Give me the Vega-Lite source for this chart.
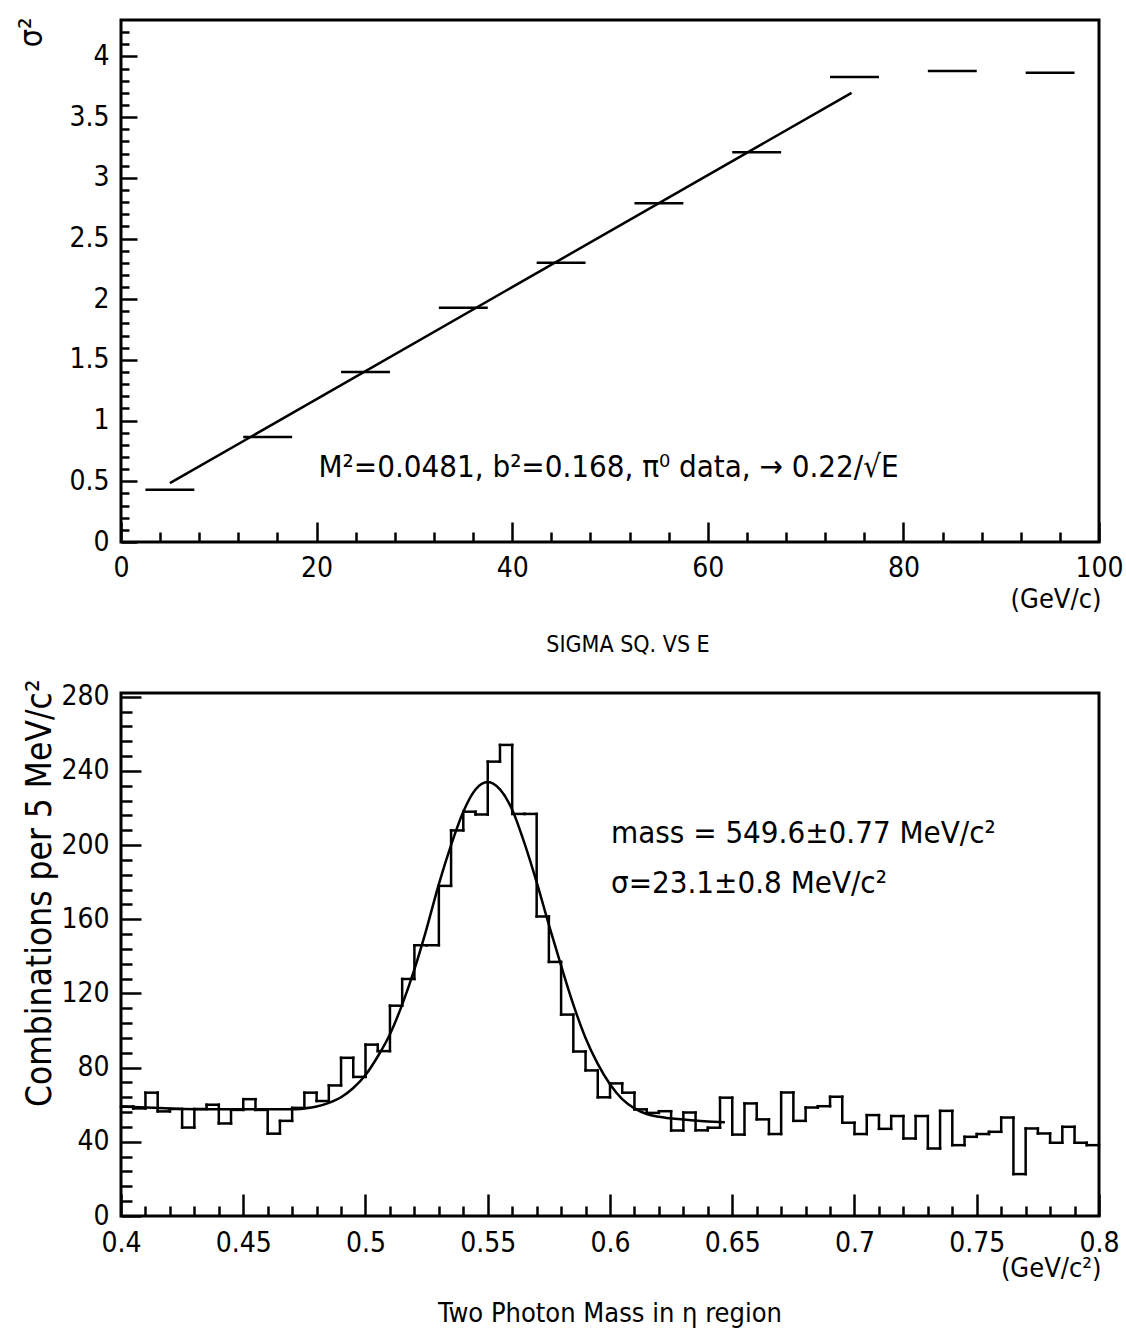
{
  "$schema": "https://vega.github.io/schema/vega-lite/v6.json",
  "background": "white",
  "padding": {"left": 13, "top": 15, "right": 2, "bottom": 2},
  "spacing": 151,
  "bounds": "flush",
  "config": {
    "font": "DejaVu Sans Condensed, DejaVu Sans, sans-serif",
    "view": {"stroke": "black", "strokeWidth": 3},
    "axis": {
      "domain": false,
      "grid": false,
      "tickColor": "black",
      "tickWidth": 2.5,
      "tickCount": 1000,
      "labelColor": "black",
      "labelFont": "DejaVu Sans Condensed, DejaVu Sans, sans-serif",
      "labelFontSize": 28,
      "labelFlush": false,
      "labelOverlap": false,
      "titleColor": "black",
      "titleFont": "DejaVu Sans Condensed, DejaVu Sans, sans-serif",
      "titleFontWeight": "normal",
      "format": ".2~f"
    },
    "title": {"font": "DejaVu Sans Condensed, DejaVu Sans, sans-serif", "fontWeight": "normal", "color": "black", "fontSize": 23}
  },
  "datasets": {
    "sigma": [
      {"lo": 2.5, "hi": 7.5, "s2": 0.43},
      {"lo": 12.5, "hi": 17.5, "s2": 0.865},
      {"lo": 22.5, "hi": 27.5, "s2": 1.40},
      {"lo": 32.5, "hi": 37.5, "s2": 1.93},
      {"lo": 42.5, "hi": 47.5, "s2": 2.30},
      {"lo": 52.5, "hi": 57.5, "s2": 2.79},
      {"lo": 62.5, "hi": 67.5, "s2": 3.21},
      {"lo": 72.5, "hi": 77.5, "s2": 3.83},
      {"lo": 82.5, "hi": 87.5, "s2": 3.88},
      {"lo": 92.5, "hi": 97.5, "s2": 3.865}
    ],
    "fit": [
      {"e": 5.0, "s2": 0.485},
      {"e": 74.7, "s2": 3.70}
    ],
    "hist": [
      {"lo": 0.400, "hi": 0.405, "n": 59},
      {"lo": 0.405, "hi": 0.410, "n": 58},
      {"lo": 0.410, "hi": 0.415, "n": 66.5},
      {"lo": 0.415, "hi": 0.420, "n": 56.4},
      {"lo": 0.420, "hi": 0.425, "n": 57.7},
      {"lo": 0.425, "hi": 0.430, "n": 47.7},
      {"lo": 0.430, "hi": 0.435, "n": 57.7},
      {"lo": 0.435, "hi": 0.440, "n": 60},
      {"lo": 0.440, "hi": 0.445, "n": 49.9},
      {"lo": 0.445, "hi": 0.450, "n": 57.2},
      {"lo": 0.450, "hi": 0.455, "n": 63},
      {"lo": 0.455, "hi": 0.460, "n": 57.2},
      {"lo": 0.460, "hi": 0.465, "n": 44.4},
      {"lo": 0.465, "hi": 0.470, "n": 51.3},
      {"lo": 0.470, "hi": 0.475, "n": 58.3},
      {"lo": 0.475, "hi": 0.480, "n": 66.5},
      {"lo": 0.480, "hi": 0.485, "n": 62},
      {"lo": 0.485, "hi": 0.490, "n": 70.4},
      {"lo": 0.490, "hi": 0.495, "n": 85.3},
      {"lo": 0.495, "hi": 0.500, "n": 75},
      {"lo": 0.500, "hi": 0.505, "n": 92.4},
      {"lo": 0.505, "hi": 0.510, "n": 88.9},
      {"lo": 0.510, "hi": 0.515, "n": 113.4},
      {"lo": 0.515, "hi": 0.520, "n": 127.8},
      {"lo": 0.520, "hi": 0.525, "n": 146},
      {"lo": 0.525, "hi": 0.530, "n": 146},
      {"lo": 0.530, "hi": 0.535, "n": 178},
      {"lo": 0.535, "hi": 0.540, "n": 207.9},
      {"lo": 0.540, "hi": 0.545, "n": 218},
      {"lo": 0.545, "hi": 0.550, "n": 216.5},
      {"lo": 0.550, "hi": 0.555, "n": 245},
      {"lo": 0.555, "hi": 0.560, "n": 254},
      {"lo": 0.560, "hi": 0.565, "n": 216.8},
      {"lo": 0.565, "hi": 0.570, "n": 216.8},
      {"lo": 0.570, "hi": 0.575, "n": 161.5},
      {"lo": 0.575, "hi": 0.580, "n": 137},
      {"lo": 0.580, "hi": 0.585, "n": 108.6},
      {"lo": 0.585, "hi": 0.590, "n": 88.7},
      {"lo": 0.590, "hi": 0.595, "n": 78.5},
      {"lo": 0.595, "hi": 0.600, "n": 64},
      {"lo": 0.600, "hi": 0.605, "n": 71.5},
      {"lo": 0.605, "hi": 0.610, "n": 66.5},
      {"lo": 0.610, "hi": 0.615, "n": 57.5},
      {"lo": 0.615, "hi": 0.620, "n": 55.6},
      {"lo": 0.620, "hi": 0.625, "n": 56.5},
      {"lo": 0.625, "hi": 0.630, "n": 46.1},
      {"lo": 0.630, "hi": 0.635, "n": 55.8},
      {"lo": 0.635, "hi": 0.640, "n": 46.2},
      {"lo": 0.640, "hi": 0.645, "n": 47.6},
      {"lo": 0.645, "hi": 0.650, "n": 63.8},
      {"lo": 0.650, "hi": 0.655, "n": 43.9},
      {"lo": 0.655, "hi": 0.660, "n": 60.7},
      {"lo": 0.660, "hi": 0.665, "n": 52.1},
      {"lo": 0.665, "hi": 0.670, "n": 44.2},
      {"lo": 0.670, "hi": 0.675, "n": 66.6},
      {"lo": 0.675, "hi": 0.680, "n": 51.3},
      {"lo": 0.680, "hi": 0.685, "n": 58.5},
      {"lo": 0.685, "hi": 0.690, "n": 59.2},
      {"lo": 0.690, "hi": 0.695, "n": 64.3},
      {"lo": 0.695, "hi": 0.700, "n": 50.3},
      {"lo": 0.700, "hi": 0.705, "n": 44.2},
      {"lo": 0.705, "hi": 0.710, "n": 54.4},
      {"lo": 0.710, "hi": 0.715, "n": 47},
      {"lo": 0.715, "hi": 0.720, "n": 53.9},
      {"lo": 0.720, "hi": 0.725, "n": 41.8},
      {"lo": 0.725, "hi": 0.730, "n": 53.9},
      {"lo": 0.730, "hi": 0.735, "n": 36.4},
      {"lo": 0.735, "hi": 0.740, "n": 56.7},
      {"lo": 0.740, "hi": 0.745, "n": 38.2},
      {"lo": 0.745, "hi": 0.750, "n": 42.7},
      {"lo": 0.750, "hi": 0.755, "n": 44.2},
      {"lo": 0.755, "hi": 0.760, "n": 45.4},
      {"lo": 0.760, "hi": 0.765, "n": 53.1},
      {"lo": 0.765, "hi": 0.770, "n": 22.6},
      {"lo": 0.770, "hi": 0.775, "n": 47.2},
      {"lo": 0.775, "hi": 0.780, "n": 44.5},
      {"lo": 0.780, "hi": 0.785, "n": 39.5},
      {"lo": 0.785, "hi": 0.790, "n": 48.1},
      {"lo": 0.790, "hi": 0.795, "n": 39.5},
      {"lo": 0.795, "hi": 0.800, "n": 38.2}
    ],
    "curve": [
      {"m": 0.400, "f": 59},
      {"m": 0.410, "f": 58.5},
      {"m": 0.420, "f": 58},
      {"m": 0.440, "f": 57.5},
      {"m": 0.460, "f": 57.5},
      {"m": 0.470, "f": 57.5},
      {"m": 0.475, "f": 58},
      {"m": 0.480, "f": 59},
      {"m": 0.485, "f": 61},
      {"m": 0.490, "f": 64},
      {"m": 0.495, "f": 69},
      {"m": 0.500, "f": 76},
      {"m": 0.505, "f": 86},
      {"m": 0.510, "f": 98},
      {"m": 0.515, "f": 114},
      {"m": 0.520, "f": 133},
      {"m": 0.525, "f": 155},
      {"m": 0.530, "f": 179},
      {"m": 0.535, "f": 200},
      {"m": 0.540, "f": 218},
      {"m": 0.545, "f": 230},
      {"m": 0.550, "f": 234},
      {"m": 0.555, "f": 230},
      {"m": 0.560, "f": 219},
      {"m": 0.565, "f": 201},
      {"m": 0.570, "f": 180},
      {"m": 0.575, "f": 157},
      {"m": 0.580, "f": 135},
      {"m": 0.585, "f": 114},
      {"m": 0.590, "f": 96},
      {"m": 0.595, "f": 82},
      {"m": 0.600, "f": 71},
      {"m": 0.605, "f": 63},
      {"m": 0.610, "f": 58},
      {"m": 0.615, "f": 55},
      {"m": 0.620, "f": 53.5},
      {"m": 0.630, "f": 52},
      {"m": 0.640, "f": 51},
      {"m": 0.647, "f": 50.5}
    ]
  },
  "vconcat": [
    {
      "width": 978,
      "height": 522,
      "title": {"text": "SIGMA SQ. VS E", "orient": "bottom", "offset": 22, "dx": 18},
      "layer": [
        {
          "data": {"name": "sigma"},
          "mark": {"type": "rule", "color": "black", "strokeWidth": 2.5},
          "encoding": {
            "x": {
              "field": "lo", "type": "quantitative",
              "scale": {"domain": [0, 100], "nice": false, "zero": false},
              "axis": {
                "values": [0,4,8,12,16,20,24,28,32,36,40,44,48,52,56,60,64,68,72,76,80,84,88,92,96,100],
                "labelExpr": "round(datum.value) % 20 === 0 ? datum.label : ''",
                "tickSize": {"condition": {"test": "round(datum.value) % 20 === 0", "value": -20}, "value": -10},
                "labelPadding": 32,
                "title": "(GeV/c)",
                "titleFontSize": 27,
                "titleAnchor": "end",
                "titleAlign": "right",
                "titleBaseline": "middle",
                "titleX": 980,
                "titleY": 57
              }
            },
            "x2": {"field": "hi"},
            "y": {
              "field": "s2", "type": "quantitative",
              "scale": {"domain": [0, 4.3], "nice": false, "zero": false},
              "axis": {
                "values": [0,0.1,0.2,0.3,0.4,0.5,0.6,0.7,0.8,0.9,1,1.1,1.2,1.3,1.4,1.5,1.6,1.7,1.8,1.9,2,2.1,2.2,2.3,2.4,2.5,2.6,2.7,2.8,2.9,3,3.1,3.2,3.3,3.4,3.5,3.6,3.7,3.8,3.9,4,4.1,4.2],
                "labelExpr": "round(datum.value*10) % 5 === 0 ? datum.label : ''",
                "tickSize": {"condition": {"test": "round(datum.value*10) % 5 === 0", "value": -16}, "value": -8},
                "labelPadding": 28,
                "title": "σ²",
                "titleFontSize": 32,
                "titleAngle": -90,
                "titleAlign": "right",
                "titleBaseline": "middle",
                "titleX": -90,
                "titleY": -3
              }
            }
          }
        },
        {
          "data": {"name": "fit"},
          "mark": {"type": "line", "color": "black", "strokeWidth": 2.5},
          "encoding": {
            "x": {"field": "e", "type": "quantitative"},
            "y": {"field": "s2", "type": "quantitative"}
          }
        },
        {
          "data": {"values": [{}]},
          "mark": {"type": "text", "align": "left", "baseline": "middle", "fontSize": 31, "color": "black"},
          "encoding": {
            "x": {"datum": 20.2},
            "y": {"datum": 0.61},
            "text": {"value": "M²=0.0481, b²=0.168, π⁰ data,  → 0.22/√E"}
          }
        }
      ]
    },
    {
      "width": 978,
      "height": 523,
      "title": {"text": "Two Photon Mass in η region", "orient": "bottom", "offset": 20, "fontSize": 27},
      "layer": [
        {
          "data": {"name": "hist"},
          "mark": {"type": "rule", "color": "black", "strokeWidth": 2.5, "strokeCap": "square"},
          "encoding": {
            "x": {
              "field": "lo", "type": "quantitative",
              "scale": {"domain": [0.4, 0.8], "nice": false, "zero": false},
              "axis": {
                "values": [0.4,0.41,0.42,0.43,0.44,0.45,0.46,0.47,0.48,0.49,0.5,0.51,0.52,0.53,0.54,0.55,0.56,0.57,0.58,0.59,0.6,0.61,0.62,0.63,0.64,0.65,0.66,0.67,0.68,0.69,0.7,0.71,0.72,0.73,0.74,0.75,0.76,0.77,0.78,0.79,0.8],
                "labelExpr": "round(datum.value*100) % 5 === 0 ? datum.label : ''",
                "tickSize": {"condition": {"test": "round(datum.value*100) % 5 === 0", "value": -22}, "value": -10},
                "labelPadding": 35,
                "title": "(GeV/c²)",
                "titleFontSize": 27,
                "titleAnchor": "end",
                "titleAlign": "right",
                "titleBaseline": "middle",
                "titleX": 980,
                "titleY": 52
              }
            },
            "x2": {"field": "hi"},
            "y": {
              "field": "n", "type": "quantitative",
              "scale": {"domain": [0, 282], "nice": false, "zero": false},
              "axis": {
                "values": [0,8,16,24,32,40,48,56,64,72,80,88,96,104,112,120,128,136,144,152,160,168,176,184,192,200,208,216,224,232,240,248,256,264,272,280],
                "labelExpr": "round(datum.value) % 40 === 0 ? datum.label : ''",
                "tickSize": {"condition": {"test": "round(datum.value) % 40 === 0", "value": -20}, "value": -11},
                "labelPadding": 32,
                "title": "Combinations per 5 MeV/c²",
                "titleFontSize": 35,
                "titleAngle": -90,
                "titleAlign": "right",
                "titleBaseline": "middle",
                "titleX": -82,
                "titleY": -14
              }
            }
          }
        },
        {
          "data": {"name": "hist"},
          "transform": [
            {"window": [{"op": "lead", "field": "n", "as": "nn"}], "sort": [{"field": "lo"}]},
            {"filter": "datum.nn != null"}
          ],
          "mark": {"type": "rule", "color": "black", "strokeWidth": 2.5, "strokeCap": "square"},
          "encoding": {
            "x": {"field": "hi", "type": "quantitative"},
            "y": {"field": "n", "type": "quantitative"},
            "y2": {"field": "nn"}
          }
        },
        {
          "data": {"name": "curve"},
          "mark": {"type": "line", "color": "black", "strokeWidth": 2.5, "interpolate": "monotone"},
          "encoding": {
            "x": {"field": "m", "type": "quantitative"},
            "y": {"field": "f", "type": "quantitative"}
          }
        },
        {
          "data": {"values": [{}]},
          "mark": {"type": "text", "align": "left", "baseline": "middle", "fontSize": 31, "color": "black"},
          "encoding": {
            "x": {"datum": 0.6004},
            "y": {"datum": 206},
            "text": {"value": "mass = 549.6±0.77 MeV/c²"}
          }
        },
        {
          "data": {"values": [{}]},
          "mark": {"type": "text", "align": "left", "baseline": "middle", "fontSize": 31, "color": "black"},
          "encoding": {
            "x": {"datum": 0.6004},
            "y": {"datum": 179},
            "text": {"value": "σ=23.1±0.8 MeV/c²"}
          }
        }
      ]
    }
  ]
}
